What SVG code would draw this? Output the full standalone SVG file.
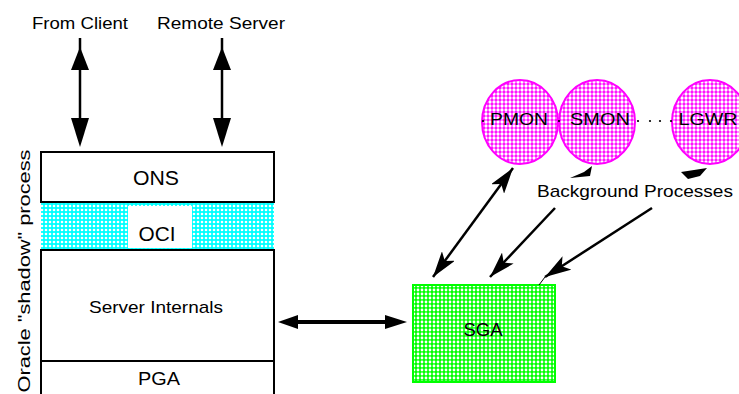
<svg xmlns="http://www.w3.org/2000/svg" width="739" height="394" viewBox="0 0 739 394">
<style>
.t{font-family:"Liberation Sans","DejaVu Sans",sans-serif;fill:#000;text-anchor:middle}
.ln{stroke:#000;stroke-width:2.5;fill:none}
.hd{fill:#000;stroke:none}
.box{fill:#fff;stroke:#000;stroke-width:2}
</style>
<defs>
<pattern id="pm" width="4" height="4" patternUnits="userSpaceOnUse"><rect width="4" height="4" fill="#ff00ff"/><circle cx="2" cy="2" r="1.65" fill="#fff"/></pattern>
<pattern id="pg" width="4" height="4" patternUnits="userSpaceOnUse"><rect width="4" height="4" fill="#00ff00"/><circle cx="2" cy="2" r="1.4" fill="#fff"/></pattern>
<pattern id="pc" width="4" height="4" patternUnits="userSpaceOnUse"><rect width="4" height="4" fill="#00ffff"/><circle cx="2" cy="2" r="1.3" fill="#fff"/></pattern>
<marker id="ah" viewBox="0 0 26 16" refX="26" refY="8" markerWidth="26" markerHeight="16" markerUnits="userSpaceOnUse" orient="auto-start-reverse"><path d="M0,0 L26,8 L0,16 L6,8 Z" fill="#000"/></marker>
</defs>
<rect width="739" height="394" fill="#fff"/>

<g id="label-from-client"><text class="t" x="80" y="29" font-size="17" textLength="96" lengthAdjust="spacingAndGlyphs">From Client</text></g>
<g id="label-remote-server"><text class="t" x="221" y="29" font-size="17" textLength="128" lengthAdjust="spacingAndGlyphs">Remote Server</text></g>
<g id="label-shadow"><text class="t" transform="translate(30,271) rotate(-90)" font-size="17" textLength="243" lengthAdjust="spacingAndGlyphs">Oracle "shadow" process</text></g>

<g id="ons"><rect class="box" x="41" y="152" width="233" height="50"/><text class="t" x="156" y="185" font-size="20" textLength="46" lengthAdjust="spacingAndGlyphs">ONS</text></g>
<g id="oci"><rect x="41" y="202" width="233" height="48" fill="url(#pc)"/><rect x="128" y="206" width="64" height="42" fill="#fff"/><line x1="41" y1="202" x2="274" y2="202" stroke="#000" stroke-width="2"/><line x1="41" y1="250" x2="274" y2="250" stroke="#000" stroke-width="2"/><text class="t" x="157" y="241" font-size="20" textLength="37" lengthAdjust="spacingAndGlyphs">OCI</text></g>
<g id="server-internals"><rect class="box" x="41" y="250" width="233" height="111"/><text class="t" x="156" y="313" font-size="17" textLength="134" lengthAdjust="spacingAndGlyphs">Server Internals</text></g>
<g id="pga"><rect class="box" x="41" y="361" width="233" height="40"/><text class="t" x="159" y="385" font-size="18" textLength="42" lengthAdjust="spacingAndGlyphs">PGA</text></g>

<g id="sga"><rect x="413" y="285" width="142" height="97" fill="url(#pg)" stroke="#00ff00" stroke-width="2"/><text class="t" x="483" y="336" font-size="19" textLength="39" lengthAdjust="spacingAndGlyphs">SGA</text></g>

<g id="pmon"><ellipse cx="520" cy="122" rx="38" ry="42" fill="url(#pm)" stroke="#ff00ff" stroke-width="2"/><text class="t" x="519" y="125" font-size="17" textLength="58" lengthAdjust="spacingAndGlyphs">PMON</text></g>
<g id="smon"><ellipse cx="597" cy="122" rx="38" ry="42" fill="url(#pm)" stroke="#ff00ff" stroke-width="2"/><text class="t" x="600" y="125" font-size="17" textLength="60" lengthAdjust="spacingAndGlyphs">SMON</text></g>
<g id="lgwr"><ellipse cx="710" cy="122" rx="38" ry="42" fill="url(#pm)" stroke="#ff00ff" stroke-width="2"/><text class="t" x="708" y="125" font-size="17" textLength="59" lengthAdjust="spacingAndGlyphs">LGWR</text></g>
<g id="ellipsis"><circle cx="483" cy="121" r="1.1"/><circle cx="559" cy="121" r="1.1"/><circle cx="638" cy="121" r="1.1"/><circle cx="650" cy="121" r="1.1"/><circle cx="660" cy="121" r="1.1"/><circle cx="671" cy="121" r="1.1"/></g>
<g id="label-background"><text class="t" x="635" y="197" font-size="17" textLength="196" lengthAdjust="spacingAndGlyphs">Background Processes</text></g>

<g id="connectors">
<line class="ln" x1="80" y1="38" x2="80" y2="140"/>
<polygon class="hd" points="80,47 89,70 71,70"/>
<polygon class="hd" points="71,118 89,118 80,147"/>
<line class="ln" x1="222" y1="38" x2="222" y2="140"/>
<polygon class="hd" points="222,47 231,70 213,70"/>
<polygon class="hd" points="213,118 231,118 222,147"/>
<line x1="290" y1="322" x2="396" y2="322" stroke="#000" stroke-width="4"/>
<polygon class="hd" points="278,322 298,315 298,329"/>
<polygon class="hd" points="407,322 385,315 385,329"/>
<line class="ln" x1="513" y1="168" x2="433" y2="277" marker-start="url(#ah)" marker-end="url(#ah)"/>
<line class="ln" x1="555" y1="208" x2="490" y2="277" marker-end="url(#ah)"/>
<line class="ln" x1="652" y1="208" x2="545" y2="277" marker-end="url(#ah)"/>
<line x1="545" y1="277" x2="539" y2="285" stroke="#000" stroke-width="1"/>
<polygon class="hd" points="570,178 584,172 592,166 590,176"/>
<polygon class="hd" points="681,172 707,168 700,176 688,179"/>
</g>
</svg>
